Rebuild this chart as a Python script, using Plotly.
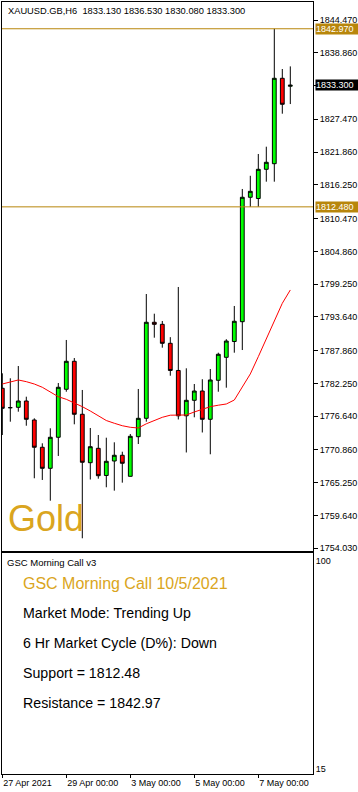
import plotly.graph_objects as go

# ---------------- data ----------------
bar_index = list(range(37))
opens = [1781.42, 1778.10, 1778.16, 1779.24, 1775.99, 1771.32, 1767.72, 1773.03, 1781.25, 1786.04,
         1776.97, 1768.68, 1771.14, 1766.49, 1768.97, 1769.95, 1766.35, 1773.13, 1776.28, 1792.72,
         1792.37, 1789.12, 1784.47, 1776.71, 1779.36, 1780.95, 1776.11, 1782.79, 1786.72, 1789.43,
         1792.82, 1814.12, 1813.91, 1818.91, 1819.87, 1834.49, 1833.13]
highs = [1783.98, 1783.13, 1785.23, 1779.98, 1776.28, 1772.00, 1774.57, 1782.32, 1789.69, 1786.60,
         1781.13, 1774.62, 1773.42, 1772.96, 1772.17, 1770.56, 1773.59, 1781.30, 1797.56, 1794.19,
         1792.94, 1790.17, 1798.76, 1784.84, 1782.15, 1782.97, 1784.72, 1787.51, 1789.82, 1795.51,
         1815.54, 1817.80, 1821.53, 1822.78, 1842.97, 1836.08, 1836.53]
lows = [1773.42, 1775.70, 1777.41, 1775.01, 1766.01, 1765.72, 1762.17, 1769.83, 1780.83, 1775.25,
        1755.74, 1765.80, 1765.94, 1764.47, 1763.89, 1765.26, 1766.30, 1771.88, 1775.70, 1790.08,
        1788.37, 1783.57, 1776.08, 1770.43, 1776.45, 1773.85, 1770.12, 1780.83, 1781.52, 1787.51,
        1787.97, 1812.48, 1812.50, 1816.79, 1816.79, 1828.43, 1830.08]
closes = [1777.99, 1778.10, 1779.24, 1776.11, 1771.32, 1767.72, 1773.03, 1781.59, 1786.04, 1776.97,
          1768.75, 1771.42, 1766.45, 1768.92, 1769.95, 1768.58, 1773.20, 1776.28, 1792.72, 1792.37,
          1789.12, 1784.47, 1776.71, 1779.36, 1780.95, 1776.11, 1782.84, 1787.24, 1789.51, 1792.89,
          1814.12, 1815.14, 1818.91, 1820.11, 1834.49, 1830.04, 1833.30]
moving_avg = [1782.15, 1782.55, 1782.84, 1782.55, 1782.15, 1781.59, 1780.83, 1779.98, 1779.53, 1778.95,
              1778.27, 1777.53, 1776.67, 1775.90, 1775.43, 1775.01, 1774.74, 1774.62, 1775.34, 1775.94,
              1776.45, 1776.81, 1776.79, 1776.85, 1777.36, 1777.87, 1778.27, 1778.52, 1778.73, 1779.41,
              1781.69, 1783.87, 1786.83, 1789.98, 1793.11, 1795.97, 1798.25]

price_ticks = [1844.47, 1838.86, 1827.47, 1821.86, 1816.25, 1810.47, 1804.86, 1799.25,
               1793.64, 1787.86, 1782.25, 1776.64, 1770.86, 1765.25, 1759.64, 1754.03]
date_tick_pos = [0, 8, 16, 24, 32]
date_tick_text = ["27 Apr 2021", "29 Apr 00:00", "3 May 00:00", "5 May 00:00", "7 May 00:00"]

support = 1812.48
resistance = 1842.97
last_price = 1833.30
title_text = "XAUUSD.GB,H6\u00a0 1833.130 1836.530 1830.080 1833.300"
indicator_name = "GSC Morning Call v3"
call_title = "GSC Morning Call 10/5/2021"
call_lines = ["Market Mode: Trending Up", "6 Hr Market Cycle (D%): Down",
              "Support = 1812.48", "Resistance = 1842.97"]
osc_ticks = [100, 15]

# ---------------- geometry helpers ----------------
W, H = 358, 792
ML, MR, MT, MB = 2, 45, 2, 18
PW, PH = W - ML - MR, H - MT - MB


def px(xp):
    return (xp - ML) / PW


def py(yp):
    return (H - MB - yp) / PH


FONT = "Liberation Sans, Arial, sans-serif"
GOLD_LINE = "#B8860B"
GOLD_TEXT = "#DAA520"

fig = go.Figure()

fig.add_trace(go.Candlestick(
    x=bar_index, open=opens, high=highs, low=lows, close=closes,
    increasing=dict(line=dict(color="black", width=1), fillcolor="#00FF00"),
    decreasing=dict(line=dict(color="black", width=1), fillcolor="#FF0000"),
    whiskerwidth=0, xaxis="x", yaxis="y", hoverinfo="skip", showlegend=False,
))
fig.add_trace(go.Scatter(
    x=bar_index, y=moving_avg, mode="lines", line=dict(color="#FF0000", width=1),
    xaxis="x", yaxis="y", hoverinfo="skip", showlegend=False,
))
fig.add_trace(go.Scatter(
    x=[None], y=[None], mode="lines", xaxis="x2", yaxis="y2", showlegend=False, hoverinfo="skip",
))

xr = [-0.3 / 8, -0.3 / 8 + PW / 8]

axis_common = dict(showgrid=False, zeroline=False, showline=True, linecolor="black",
                   linewidth=1, mirror=True, automargin=False)

fig.update_layout(
    template="none",
    width=W, height=H,
    margin=dict(l=ML, r=MR, t=MT, b=MB, pad=0, autoexpand=False),
    paper_bgcolor="white", plot_bgcolor="white",
    boxgap=0.32,
    showlegend=False,
    font=dict(family=FONT, size=9, color="black"),
    xaxis=dict(domain=[0, 1], anchor="y", range=xr, showticklabels=False, ticks="",
               rangeslider=dict(visible=False), **axis_common),
    yaxis=dict(domain=[py(551), 1], anchor="x", side="right",
               range=[1844.47 - (551 - 20) / 5.841, 1844.47 + 18 / 5.841],
               tickvals=price_ticks + [last_price],
               ticktext=[f"{v:.3f}" for v in price_ticks] + [""],
               ticks="outside", ticklen=4, tickcolor="black", tickwidth=1,
               tickfont=dict(family=FONT, size=9, color="black"), **axis_common),
    xaxis2=dict(domain=[0, 1], anchor="y2", range=xr, tickvals=date_tick_pos,
                ticktext=date_tick_text, ticks="outside", ticklen=3, tickcolor="black", tickwidth=1,
                ticklabelposition="outside right",
                tickfont=dict(family=FONT, size=9, color="black"), **axis_common),
    yaxis2=dict(domain=[0, py(553.3)], anchor="x2", side="right",
                range=[15 - 5 * 0.4081, 100 + 7.4 * 0.4081],
                tickvals=osc_ticks, ticktext=[str(v) for v in osc_ticks], ticks="",
                tickfont=dict(family=FONT, size=9, color="black"), **axis_common),
)

# support / resistance lines
for lvl in (resistance, support):
    fig.add_shape(type="line", xref="x domain", yref="y", x0=0, x1=1, y0=lvl, y1=lvl,
                  line=dict(color=GOLD_LINE, width=1))

# price labels on the right axis
for lvl, bg in ((resistance, GOLD_LINE), (support, GOLD_LINE), (last_price, "black")):
    fig.add_annotation(xref="paper", yref="y", x=px(315), y=lvl, xanchor="left", yanchor="middle",
                       text=f"{lvl:.3f}", showarrow=False, bgcolor=bg, borderpad=0,
                       width=42, height=10, align="left",
                       font=dict(family=FONT, size=9, color="white"))

# chart title
fig.add_annotation(xref="paper", yref="paper", x=px(6), y=py(10.5), xanchor="left", yanchor="middle",
                   text=title_text, showarrow=False,
                   font=dict(family=FONT, size=9.3, color="black"))

# big "Gold" label
fig.add_annotation(xref="paper", yref="paper", x=px(6), y=py(518), xanchor="left", yanchor="middle",
                   text="Gold", showarrow=False, font=dict(family=FONT, size=36, color=GOLD_TEXT))

# lower panel texts
fig.add_annotation(xref="paper", yref="paper", x=px(5), y=py(562.7), xanchor="left", yanchor="middle",
                   text=indicator_name, showarrow=False, font=dict(family=FONT, size=9.5, color="black"))
fig.add_annotation(xref="paper", yref="paper", x=px(21), y=py(583.5), xanchor="left", yanchor="middle",
                   text=call_title, showarrow=False, font=dict(family=FONT, size=16, color=GOLD_TEXT))
for i, line in enumerate(call_lines):
    fig.add_annotation(xref="paper", yref="paper", x=px(21), y=py(612.7 + 30 * i),
                       xanchor="left", yanchor="middle", text=line, showarrow=False,
                       font=dict(family=FONT, size=14.2, color="black"))

fig.write_html(
    "out.html",
    config={"displayModeBar": False, "staticPlot": True},
    post_script="document.body.style.margin='0';document.body.style.padding='0';"
                "document.documentElement.style.overflow='hidden';",
)
